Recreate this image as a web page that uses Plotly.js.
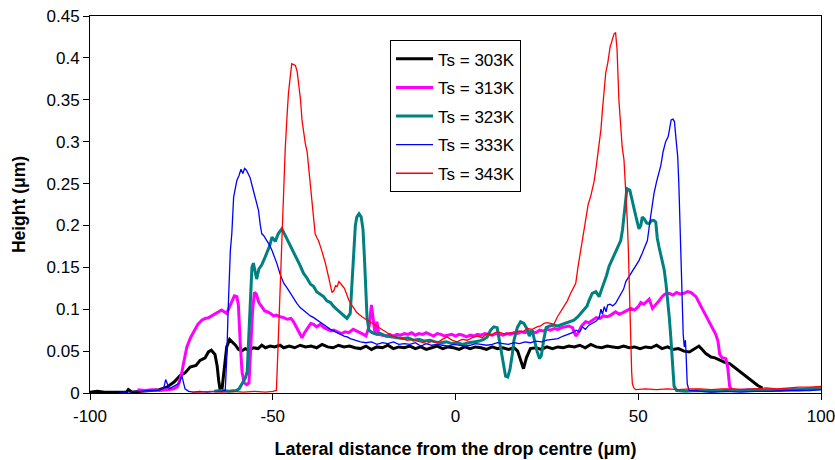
<!DOCTYPE html>
<html>
<head>
<meta charset="utf-8">
<script src="https://cdn.plot.ly/plotly-3.0.1.min.js"></script>
<style>html,body{margin:0;padding:0;background:#fff;}#chart{width:835px;height:460px;}</style>
</head>
<body>
<div id="chart"></div>
<script>
// ---- Data ----
const seriesNames = ["Ts = 303K", "Ts = 313K", "Ts = 323K", "Ts = 333K", "Ts = 343K"];
const xTicks = [-100, -50, 0, 50, 100];

const x303 = [-100,-98,-96,-93,-90,-89.5,-88.5,-86,-83,-81,-79,-77,-75.3,-74,-72.6,-71,-69.9,-68.5,-67.6,-66.8,-65.8,-65.2,-64.8,-64.4,-63.9,-63.3,-62.6,-61.8,-61,-60.2,-59.4,-58.5,-57.5,-56.5,-55.3,-54,-53,-52,-50.7,-49.5,-48,-47,-45.5,-44,-42.5,-41,-39.5,-38,-36.5,-35,-33.5,-32,-30.5,-29,-27.5,-26,-24.5,-23,-21.5,-20,-18.5,-17,-15.5,-14,-12.5,-11,-9.5,-8,-6.5,-5,-3.5,-2,-0.5,1,2.5,4,5.5,7,8.5,10,11.5,13,14.5,16,17,17.8,18.6,19.4,20.5,22,23.5,25,26.5,28,29.5,31,32.5,34,35.5,37,38.5,40,41.5,43,44.5,46,47.5,49,50.5,52,53.5,55,56.5,58,59.5,61,62.5,64,65,66.6,67.5,68.5,69.9,71,72.5,73.5,75,76.5,78,79.5,81,82.7,84];
const y303 = [0.001,0.002,0.001,0.001,0.001,0.004,0.001,0.002,0.003,0.004,0.007,0.013,0.021,0.024,0.031,0.033,0.039,0.042,0.049,0.051,0.046,0.032,0.015,0.004,0.004,0.031,0.055,0.064,0.061,0.057,0.052,0.050,0.053,0.051,0.054,0.053,0.057,0.054,0.056,0.055,0.057,0.054,0.056,0.054,0.057,0.055,0.056,0.054,0.058,0.055,0.054,0.057,0.055,0.056,0.054,0.053,0.056,0.052,0.055,0.054,0.057,0.053,0.055,0.054,0.056,0.053,0.055,0.052,0.054,0.056,0.053,0.055,0.054,0.052,0.055,0.053,0.055,0.054,0.052,0.055,0.053,0.054,0.052,0.054,0.050,0.040,0.029,0.042,0.053,0.054,0.052,0.055,0.053,0.055,0.054,0.056,0.055,0.057,0.054,0.058,0.055,0.054,0.056,0.055,0.054,0.056,0.054,0.055,0.053,0.055,0.054,0.057,0.053,0.055,0.052,0.053,0.050,0.049,0.052,0.056,0.052,0.047,0.043,0.042,0.039,0.037,0.035,0.030,0.024,0.019,0.014,0.009,0.006];

const x313 = [-87,-85,-83,-81,-79,-77,-76,-75,-74.2,-73.5,-72.5,-71.5,-70.5,-69.4,-68.5,-67.5,-66.2,-65,-64,-63.3,-62.6,-61.8,-61,-60.5,-59.8,-59.4,-58.9,-58.4,-57.8,-57.1,-56.5,-56,-55.5,-55,-54.5,-53.8,-53,-52.2,-51.5,-50.6,-49.8,-49,-48,-47,-46,-45,-44.3,-43.5,-42.5,-42,-41.3,-40.5,-39.6,-38.8,-38,-37,-36,-35,-34,-33.3,-32.3,-31.2,-30.2,-29.2,-28,-27,-26,-25.2,-24.5,-23.6,-23,-22.5,-22,-21.5,-21,-20,-19,-18,-17,-16,-15,-14,-13,-12,-11,-10,-9,-8,-7,-6,-5,-4,-3,-2,-1,0,1,2,3,4,5,6,7,8,9,10,11,12,13,14,15,16,17,18,19,20,21,22,23,24,25,26,27,28,29,30,31,32,32.9,33.6,34.5,35.6,36.5,37.5,38.5,39.5,40.5,41.5,42.5,43.8,44.8,45.8,46.8,48,49,50,50.7,51.5,52.3,53,53.9,54.8,55.7,56.5,57.3,58.4,59.5,60.5,61.5,62.5,63.5,64.4,65.8,67.1,68.2,69.4,70.3,71.2,71.8,72.3,73,74,74.5,75,75.5,77,80,83,86,89,92,95,98,100];
const y313 = [0.004,0.003,0.004,0.003,0.004,0.005,0.008,0.022,0.040,0.055,0.066,0.074,0.082,0.087,0.089,0.090,0.093,0.096,0.099,0.097,0.095,0.103,0.112,0.116,0.115,0.105,0.060,0.025,0.012,0.010,0.012,0.050,0.100,0.120,0.118,0.108,0.103,0.098,0.097,0.095,0.092,0.093,0.091,0.090,0.088,0.089,0.085,0.078,0.070,0.066,0.072,0.078,0.083,0.082,0.079,0.082,0.078,0.076,0.074,0.075,0.073,0.071,0.073,0.072,0.076,0.074,0.072,0.070,0.068,0.080,0.105,0.090,0.070,0.085,0.070,0.069,0.068,0.070,0.068,0.070,0.069,0.071,0.070,0.072,0.069,0.071,0.070,0.072,0.070,0.068,0.071,0.070,0.068,0.069,0.070,0.068,0.070,0.069,0.067,0.069,0.068,0.070,0.069,0.071,0.070,0.069,0.071,0.070,0.069,0.071,0.070,0.072,0.071,0.073,0.072,0.074,0.073,0.072,0.075,0.074,0.076,0.075,0.077,0.076,0.078,0.079,0.080,0.078,0.068,0.072,0.080,0.085,0.084,0.087,0.090,0.089,0.092,0.091,0.093,0.097,0.094,0.096,0.098,0.101,0.099,0.103,0.108,0.106,0.109,0.112,0.101,0.105,0.110,0.115,0.118,0.119,0.117,0.120,0.118,0.119,0.121,0.120,0.115,0.104,0.095,0.085,0.078,0.070,0.062,0.046,0.042,0.041,0.030,0.008,0.004,0.003,0.004,0.003,0.004,0.003,0.004,0.004,0.005,0.005];

const x323 = [-66,-64,-62,-60,-59.2,-58.5,-57.5,-57,-56.6,-56.2,-55.7,-55.3,-54.8,-54.4,-53.8,-53,-52.3,-51.6,-50.9,-50.2,-49.3,-48.5,-47.5,-46.8,-46,-45.2,-44.3,-43.4,-42.5,-41.6,-40.6,-39.7,-38.8,-38,-37,-36.1,-35.2,-34.2,-33.3,-32.3,-31.4,-30.5,-29.7,-28.8,-28.3,-27.9,-27.4,-27,-26.4,-25.8,-25.3,-24.9,-24.6,-24.2,-23.7,-22.8,-21.5,-20.5,-19,-17.5,-16,-14.5,-13,-11.5,-10,-8.5,-7,-5.5,-4,-2.5,-1,0.5,2,3.5,5,6.5,7.7,8.7,9.6,10.5,11.4,12.3,13,13.7,14.3,14.9,15.5,16,16.9,17.8,18.7,19.5,20.2,21,21.5,22.3,23,23.5,24.2,24.8,25.8,26.9,28,29.2,30.1,31.2,32.4,33.5,34.3,35.2,36,36.5,37.4,38.4,39.3,40,40.6,41.3,42,42.9,43.8,44.5,45.2,45.7,46.1,46.5,46.9,47.7,48.3,48.8,49.5,50.2,50.7,51.1,51.6,52.3,53,53.6,54.3,54.8,55.2,55.7,56.4,57.1,57.6,58,58.5,58.9,59.4,59.8,60.5,63,66,70,74,78,82,86,90,94,97,100];
const y323 = [0.002,0.003,0.002,0.003,0.005,0.010,0.018,0.025,0.060,0.110,0.150,0.155,0.145,0.136,0.148,0.153,0.160,0.167,0.175,0.186,0.181,0.190,0.196,0.190,0.183,0.177,0.168,0.161,0.152,0.143,0.137,0.130,0.127,0.121,0.118,0.115,0.110,0.108,0.103,0.099,0.096,0.092,0.089,0.095,0.130,0.170,0.200,0.210,0.214,0.210,0.195,0.160,0.120,0.090,0.075,0.072,0.070,0.071,0.068,0.067,0.066,0.065,0.066,0.063,0.064,0.062,0.063,0.061,0.060,0.061,0.059,0.060,0.058,0.060,0.061,0.062,0.064,0.067,0.075,0.079,0.078,0.055,0.035,0.020,0.019,0.028,0.045,0.063,0.078,0.085,0.083,0.077,0.068,0.075,0.065,0.050,0.041,0.045,0.065,0.078,0.080,0.081,0.080,0.082,0.083,0.085,0.087,0.091,0.095,0.099,0.104,0.110,0.119,0.121,0.115,0.124,0.131,0.140,0.151,0.160,0.170,0.177,0.182,0.195,0.210,0.232,0.244,0.242,0.230,0.218,0.208,0.196,0.200,0.210,0.208,0.203,0.202,0.206,0.206,0.204,0.185,0.174,0.160,0.147,0.130,0.115,0.090,0.067,0.031,0.008,0.003,0.002,0.003,0.002,0.003,0.003,0.004,0.003,0.004,0.004,0.005,0.005];

const x333 = [-92,-90,-88,-86,-84,-82,-80.5,-79.8,-79.3,-78.8,-78.3,-77.5,-76.5,-75.5,-74.9,-74.5,-74,-73,-71.7,-70,-68,-66,-64,-63,-62.6,-62.2,-61.6,-61.2,-60.7,-60.2,-59.8,-59.2,-58.7,-58.2,-57.7,-57.2,-56.6,-56.2,-55.5,-54.8,-54.3,-53.9,-53.4,-53,-52.5,-51.6,-50.8,-50.2,-49.5,-48.9,-48,-47,-46,-45.2,-44.3,-43.4,-42.5,-41.5,-40.6,-39.7,-38.8,-37.9,-37,-36.1,-35.2,-34.2,-33.3,-32.4,-31.5,-30.5,-29.6,-28.8,-27.5,-26,-24.5,-23,-21.5,-20,-18.5,-17,-15.5,-14,-12.5,-11,-9.5,-8,-6.5,-5,-3.5,-2,-0.5,1,2.5,4,5.5,7,8.5,10,11.5,13,14.5,16,17.5,19,20.5,22,23.5,25,26.5,28,29.5,31,32,33,34,34.7,35.5,36.5,37.5,38.5,39.3,39.8,40.2,40.7,41.2,41.6,42.3,43,43.8,44.5,45.3,46,46.6,47.3,48,48.8,49.5,50.2,51,51.7,52.5,53.2,53.8,54.3,55,55.6,56.2,56.8,57.5,58.2,58.6,59,59.5,59.9,60.4,60.8,61.1,61.4,61.6,62,62.3,62.6,62.9,63.1,63.4,63.9,66,70,74,78,82,86,90,94,97,100];
const y333 = [0.001,0.001,0.002,0.002,0.003,0.003,0.004,0.006,0.016,0.010,0.005,0.007,0.010,0.012,0.021,0.015,0.005,0.002,0.001,0.002,0.001,0.002,0.002,0.003,0.040,0.100,0.170,0.190,0.234,0.245,0.254,0.260,0.267,0.262,0.268,0.266,0.261,0.257,0.245,0.234,0.226,0.218,0.200,0.190,0.188,0.182,0.176,0.170,0.162,0.155,0.142,0.131,0.125,0.119,0.112,0.107,0.102,0.098,0.095,0.092,0.090,0.087,0.084,0.082,0.079,0.076,0.074,0.072,0.071,0.068,0.067,0.065,0.063,0.061,0.060,0.061,0.058,0.060,0.059,0.061,0.058,0.059,0.058,0.060,0.056,0.059,0.057,0.058,0.057,0.056,0.058,0.057,0.056,0.057,0.059,0.058,0.057,0.058,0.060,0.059,0.058,0.060,0.059,0.061,0.060,0.062,0.061,0.063,0.064,0.065,0.068,0.070,0.072,0.075,0.073,0.079,0.076,0.081,0.083,0.086,0.090,0.100,0.094,0.103,0.097,0.105,0.106,0.104,0.107,0.112,0.118,0.124,0.133,0.138,0.143,0.148,0.153,0.158,0.166,0.173,0.182,0.205,0.225,0.238,0.252,0.262,0.272,0.288,0.300,0.306,0.318,0.326,0.327,0.324,0.300,0.282,0.250,0.200,0.170,0.110,0.070,0.055,0.063,0.045,0.011,0.003,0.002,0.001,0.002,0.001,0.002,0.002,0.003,0.003,0.003,0.004];

const x343 = [-72,-70,-67,-64,-61,-58,-55,-52,-50,-49,-48.6,-48.2,-47.8,-47.5,-47,-46.6,-46.1,-45.7,-45.2,-44.8,-44.3,-43.8,-43.3,-42.9,-42.4,-42,-41.5,-41.1,-40.6,-40.2,-39.7,-39.3,-38.8,-38.4,-37.9,-37.5,-36.6,-35.6,-34.7,-33.8,-33.3,-32.8,-32.4,-31.9,-31.5,-30.9,-30.4,-29.7,-29.2,-28.1,-27,-25.6,-24.2,-22.8,-21.5,-20.1,-18.7,-17.3,-15.9,-14.5,-13.2,-11.8,-10.4,-9,-7.8,-6.5,-5,-3.6,-2.3,-1,0.4,1.8,3.2,4.6,6,7.3,8.7,10,11.2,12.3,13.7,15,16,17.4,18.5,19.6,21,22.3,23.3,24.2,25.1,26,26.9,27.9,28.8,29.7,30.6,31.5,32.2,32.9,33.5,34.2,34.9,35.6,36.3,37,37.5,37.9,38.5,39,39.3,39.8,40.2,40.7,41.1,41.7,42.3,42.8,43.4,43.8,44.2,44.7,45.2,45.6,46.1,46.6,47,47.3,47.5,47.7,47.9,48.2,48.4,48.8,49.3,52,55,58,61,64,67,70,73,76,79,82,85,88,91,94,97,100];
const y343 = [0.001,0.001,0.002,0.001,0.002,0.001,0.002,0.001,0.002,0.003,0.050,0.100,0.150,0.190,0.240,0.290,0.330,0.358,0.378,0.393,0.392,0.391,0.383,0.370,0.350,0.326,0.310,0.298,0.288,0.270,0.250,0.230,0.210,0.190,0.185,0.182,0.170,0.155,0.138,0.120,0.122,0.128,0.127,0.133,0.131,0.127,0.125,0.117,0.111,0.103,0.096,0.091,0.087,0.083,0.079,0.075,0.071,0.068,0.066,0.065,0.063,0.064,0.062,0.060,0.059,0.062,0.060,0.064,0.067,0.063,0.061,0.064,0.063,0.066,0.068,0.066,0.071,0.069,0.073,0.072,0.070,0.072,0.071,0.074,0.073,0.077,0.076,0.079,0.080,0.083,0.084,0.083,0.082,0.091,0.097,0.103,0.110,0.119,0.125,0.131,0.150,0.170,0.190,0.210,0.225,0.235,0.245,0.252,0.270,0.288,0.295,0.315,0.338,0.360,0.382,0.395,0.413,0.420,0.429,0.430,0.410,0.350,0.320,0.294,0.278,0.240,0.206,0.170,0.131,0.090,0.051,0.025,0.011,0.006,0.004,0.005,0.004,0.005,0.004,0.005,0.005,0.004,0.005,0.005,0.004,0.005,0.006,0.005,0.006,0.007,0.007,0.008];

const xs = [x303, x313, x323, x333, x343];
const ys = [y303, y313, y323, y333, y343];
const colors = ["#000000", "#FF00FF", "#008080", "#0000FF", "#FF0000"];
const widths = [3, 3, 3, 1.3, 1.3];

const FONT = "Liberation Sans, Arial, Helvetica, sans-serif";

const traces = seriesNames.map((name, i) => ({
  type: "scatter",
  mode: "lines",
  name: name,
  x: xs[i],
  y: ys[i],
  legendgroup: "g" + i,
  line: {color: colors[i], width: widths[i]},
  hoverinfo: "skip"
}));

const layout = {
  width: 835,
  height: 460,
  margin: {l: 90, r: 14, t: 16, b: 67},
  paper_bgcolor: "#ffffff",
  plot_bgcolor: "#ffffff",
  font: {family: FONT, size: 17, color: "#000000"},
  showlegend: true,
  legend: {
    x: 0.4104, y: 0.9355, xanchor: "left", yanchor: "top",
    bgcolor: "#ffffff", bordercolor: "#000000", borderwidth: 1,
    font: {family: FONT, size: 17, color: "#000000"},
    traceorder: "grouped", tracegroupgap: 3.5, itemwidth: 37
  },
  xaxis: {
    range: [-100, 100],
    tickvals: xTicks,
    ticktext: xTicks.map(String),
    ticks: "outside", ticklen: 6, tickwidth: 1, tickcolor: "#000",
    showline: true, linecolor: "#000", linewidth: 1, mirror: true,
    showgrid: false, zeroline: false,
    ticklabelstandoff: 2,
    ticklabeloverflow: "allow",
    tickfont: {family: FONT, size: 17, color: "#000"},
    title: {text: "Lateral distance from the drop centre (μm)", font: {family: FONT, size: 18, color: "#000", weight: "bold"}, standoff: 16}
  },
  yaxis: {
    range: [0, 0.45],
    dtick: 0.05, tick0: 0,
    ticks: "outside", ticklen: 6, tickwidth: 1, tickcolor: "#000",
    showline: true, linecolor: "#000", linewidth: 1, mirror: true,
    showgrid: false, zeroline: false,
    tickfont: {family: FONT, size: 17, color: "#000"},
    title: {text: "Height (μm)", font: {family: FONT, size: 17.5, color: "#000", weight: "bold"}, standoff: 16}
  }
};

Plotly.newPlot("chart", traces, layout, {displayModeBar: false, staticPlot: true});
</script>
</body>
</html>
